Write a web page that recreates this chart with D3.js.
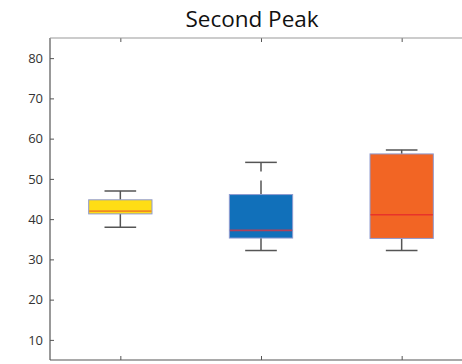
<!DOCTYPE html>
<html><head><meta charset="utf-8">
<script src="https://cdn.jsdelivr.net/npm/d3@7"></script>
<style>body{margin:0;background:#fff;} svg{display:block;}</style>
</head><body>
<svg id="c" width="462" height="364"></svg>
<script>
const groups = [1, 2, 3];
const whiskerLow  = [38, 32.2, 32.2];
const q1          = [41.3, 35.3, 35.2];
const median      = [42.0, 37.2, 41.1];
const q3          = [44.8, 46.1, 56.2];
const whiskerHigh = [47, 54.1, 57.2];
const boxColors    = ["#FFDD15", "#1170BA", "#F26524"];
const medianColors = ["#F08A24", "#B0405A", "#E8332A"];
const yTicks = [10, 20, 30, 40, 50, 60, 70, 80];
const title = "Second Peak";

const svg = d3.select("#c");
const mLeft = 50, mRight = 472, mTop = 38, mBottom = 360;
const x = d3.scaleLinear().domain([0.5, 3.5]).range([mLeft, mRight]);
const y = d3.scaleLinear().domain([5, 85]).range([mBottom, mTop]);
const axisColor = "#555";
const font = "'Open Sans', 'Liberation Sans', sans-serif";

const g = svg.append("g");
const ax = g.append("g").attr("transform", `translate(${mLeft},0)`)
  .call(d3.axisLeft(y).tickValues(yTicks).tickSize(-4).tickPadding(7));
ax.select(".domain").remove();
ax.selectAll(".tick line").attr("stroke", axisColor);
ax.selectAll(".tick text").attr("font-family", font).attr("font-size", 13).attr("fill", "#333");

const bx = g.append("g").attr("transform", `translate(0,${mBottom})`)
  .call(d3.axisBottom(x).tickValues(groups).tickSize(-4).tickFormat(""));
bx.select(".domain").remove();
bx.selectAll(".tick line").attr("stroke", axisColor);
const tx = g.append("g").attr("transform", `translate(0,${mTop})`)
  .call(d3.axisTop(x).tickValues(groups).tickSize(-4).tickFormat(""));
tx.select(".domain").remove();
tx.selectAll(".tick line").attr("stroke", axisColor);

g.append("line").attr("x1", mLeft).attr("x2", mLeft).attr("y1", mTop).attr("y2", mBottom).attr("stroke", axisColor).attr("stroke-width", 1.2);
g.append("line").attr("x1", mLeft).attr("x2", mRight).attr("y1", mBottom).attr("y2", mBottom).attr("stroke", axisColor).attr("stroke-width", 1.2);
g.append("line").attr("x1", mLeft).attr("x2", mRight).attr("y1", mTop).attr("y2", mTop).attr("stroke", "#999").attr("stroke-width", 1.2);

const bw = 0.45 * (x(2) - x(1));
const cw = bw / 2;
const data = groups.map((gv, i) => ({g: gv, lo: whiskerLow[i], q1: q1[i], med: median[i], q3: q3[i], hi: whiskerHigh[i], c: boxColors[i], mc: medianColors[i]}));

const b = svg.append("g").selectAll("g").data(data).join("g");
b.append("line").attr("x1", d => x(d.g)).attr("x2", d => x(d.g))
  .attr("y1", d => y(d.q3)).attr("y2", d => y(d.hi))
  .attr("stroke", "#555").attr("stroke-width", 1.5).attr("stroke-dasharray", "14 9");
b.append("line").attr("x1", d => x(d.g)).attr("x2", d => x(d.g))
  .attr("y1", d => y(d.q1)).attr("y2", d => y(d.lo))
  .attr("stroke", "#555").attr("stroke-width", 1.5).attr("stroke-dasharray", "14 9");
b.append("line").attr("x1", d => x(d.g) - cw/2).attr("x2", d => x(d.g) + cw/2)
  .attr("y1", d => y(d.hi)).attr("y2", d => y(d.hi)).attr("stroke", "#555").attr("stroke-width", 1.5);
b.append("line").attr("x1", d => x(d.g) - cw/2).attr("x2", d => x(d.g) + cw/2)
  .attr("y1", d => y(d.lo)).attr("y2", d => y(d.lo)).attr("stroke", "#555").attr("stroke-width", 1.5);
b.append("rect").attr("x", d => x(d.g) - bw/2).attr("width", bw)
  .attr("y", d => y(d.q3)).attr("height", d => y(d.q1) - y(d.q3))
  .attr("fill", d => d.c).attr("stroke", "#8E9AD0").attr("stroke-width", 1);
b.append("line").attr("x1", d => x(d.g) - bw/2 + 0.5).attr("x2", d => x(d.g) + bw/2 - 0.5)
  .attr("y1", d => y(d.med)).attr("y2", d => y(d.med)).attr("stroke", d => d.mc).attr("stroke-width", 1.6);

svg.append("text").attr("x", 252).attr("y", 27).attr("text-anchor", "middle")
  .attr("font-family", font).attr("font-size", 22.5).attr("fill", "#111").text(title);
</script>
</body></html>
